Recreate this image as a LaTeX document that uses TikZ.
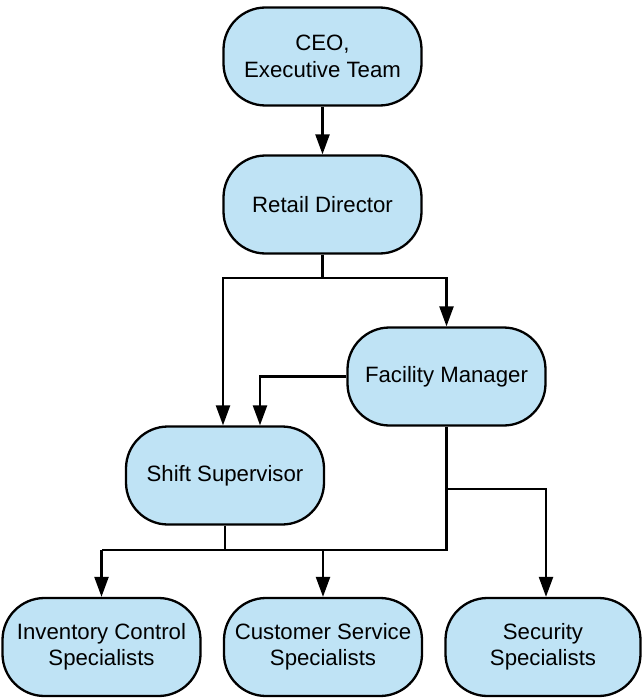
\documentclass[tikz,border=0pt]{standalone}
\usepackage{fontspec}
\setmainfont{Liberation Sans}
\usetikzlibrary{arrows.meta}
\definecolor{boxfill}{HTML}{BFE3F5}
\begin{document}
\begin{tikzpicture}[x=1pt,y=-1pt,
  box/.style={draw=black, line width=2.3pt, fill=boxfill, rounded corners=42pt,
    minimum width=198pt, minimum height=98pt, inner sep=0pt, align=center,
    font=\fontsize{22.2}{26.5}\selectfont},
  conn/.style={line width=2.3pt, draw=black},
  arr/.style={conn, -{Triangle[length=20pt,width=14pt]}}]
\useasboundingbox (0,0) rectangle (641,698);
\node[box] (ceo) at (322.5,56.5) {CEO,\\Executive Team};
\node[box] (rd) at (322.5,204.5) {Retail Director};
\node[box] (fm) at (446.5,376.5) {Facility Manager};
\node[box] (ss) at (225,475.5) {Shift Supervisor};
\node[box] (inv) at (101.5,647) {Inventory Control\\Specialists};
\node[box] (cust) at (323,647) {Customer Service\\Specialists};
\node[box, minimum width=195pt] (sec) at (543,647) {Security\\Specialists};
% junction coordinates
\coordinate (jrd) at (322.5,278);
\coordinate (jl) at (223,278);
\coordinate (jfm) at (260,376.5);
\coordinate (jss) at (225,550);
\coordinate (jinv) at (101.5,550);
\coordinate (jcust) at (323,550);
\coordinate (jbot) at (446.5,550);
\coordinate (jsec) at (446.5,489);
\coordinate (csec) at (546,489);
% connectors
\draw[arr] (ceo) -- (rd);
\draw[arr] (rd.south) -- (jrd) -| (fm.north);
\draw[arr] (jrd) -- (jl) -- (jl |- ss.north);
\draw[arr] (fm.west) -- (jfm) -- (jfm |- ss.north);
\draw[conn] (fm.south) -- (jbot) -- (jinv);
\draw[conn] (ss.south) -- (jss);
\draw[arr] (jinv) -- (inv.north);
\draw[arr] (jcust) -- (cust.north);
\draw[arr] (jsec) -- (csec) -- (csec |- sec.north);
\end{tikzpicture}
\end{document}
